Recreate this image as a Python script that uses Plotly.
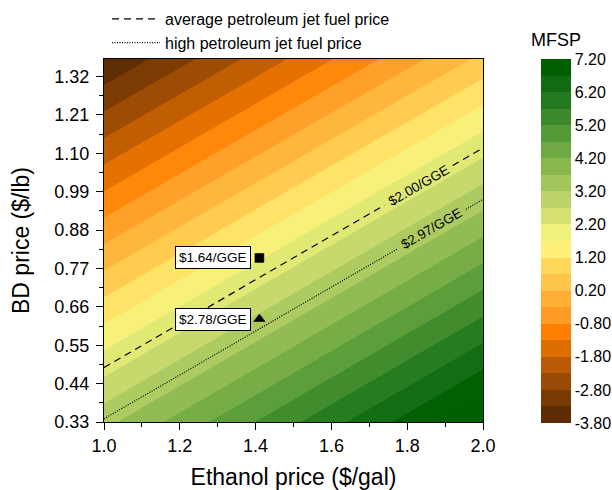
import numpy as np
import plotly.graph_objects as go

# MFSP surface ($/GGE) on a coarse grid of ethanol and BD prices
ethanol_price = [1.0, 1.5, 2.0]          # $/gal
bd_price = [0.33, 0.85, 1.37]            # $/lb
mfsp = [
    [3.05, 5.12, 7.19],                  # BD = 0.33
    [-0.37, 1.70, 3.77],                 # BD = 0.85
    [-3.79, -1.73, 0.33],                # BD = 1.37
]

# Break-even lines for petroleum jet fuel prices
line_ethanol = [1.0, 2.0]
avg_jet_bd = [0.486, 1.115]              # $2.00/GGE
high_jet_bd = [0.339, 0.968]             # $2.97/GGE
avg_label_x = 1.83
high_label_x = 1.865
label_gap = 0.09

# Two highlighted scenarios
case_ethanol = [1.41, 1.41]
case_bd = [0.80, 0.625]
case_mfsp = ["$1.64/GGE", "$2.78/GGE"]
case_symbols = ["square", "triangle-up"]

# Band colours, lowest MFSP first (0.5 $/GGE steps from -3.8 to 7.2)
band_colors = [
    "#5e2c04", "#7a3a04", "#9a4a04", "#bb5a04", "#de6e00", "#ff8000",
    "#ff9a24", "#ffae36", "#ffc44a", "#ffd75a", "#fff07a",
    "#eef27a", "#d6e070", "#bcd36a", "#a3c65b", "#88b74f",
    "#6ea943", "#559a37", "#3b892b", "#23791e", "#106b12", "#005f00",
]

lev_start, lev_end, lev_size = -3.8, 7.2, 0.5
cbar_ticks = [round(lev_start + k, 2) for k in range(12)]
cbar_text = ["%.2f" % v for v in cbar_ticks]

# colour map for the filled contours: band i is sampled at (i + 1) / (n + 2)
n_slots = len(band_colors) + 2
fill_scale = [[0.0, band_colors[0]]]
for i, c in enumerate(band_colors):
    fill_scale.append([(i + 1) / n_slots, c])
fill_scale.append([1.0, band_colors[-1]])

# stepped scale for the colour bar (exactly lev_start .. lev_end)
nb = len(band_colors)
step_scale = []
for i, c in enumerate(band_colors):
    step_scale.append([i / nb, c])
    step_scale.append([(i + 1) / nb, c])

FONT = "Liberation Sans, Arial, sans-serif"
PLOT_W, PLOT_H = 379, 363

fig = go.Figure()

fig.add_trace(go.Contour(
    x=ethanol_price, y=bd_price, z=mfsp,
    autocontour=False,
    contours=dict(start=lev_start, end=lev_end, size=lev_size, coloring="fill"),
    line=dict(width=0),
    colorscale=fill_scale,
    showscale=False,
    showlegend=False,
    hoverinfo="skip",
))

# colour key for the MFSP bands
fig.add_trace(go.Scatter(
    x=[ethanol_price[1]], y=[bd_price[1]], mode="markers",
    showlegend=False, hoverinfo="skip",
    marker=dict(
        size=1, opacity=0, color=[mfsp[1][1]],
        colorscale=step_scale, cmin=lev_start, cmax=lev_end, showscale=True,
        colorbar=dict(
            thickness=30, thicknessmode="pixels",
            len=364, lenmode="pixels",
            x=1 + 58 / PLOT_W, xanchor="left", xref="paper",
            y=1.0, yanchor="top", yref="paper",
            outlinewidth=0,
            ticks="",
            tickvals=cbar_ticks,
            ticktext=cbar_text,
            tickfont=dict(size=16, color="black", family=FONT),
            xpad=0, ypad=0,
        ),
    ),
))


def broken_line(xs, ys, xc, gap):
    xa, xb = xc - gap, xc + gap
    return ([xs[0], xa, None, xb, xs[1]],
            [ys[0], float(np.interp(xa, xs, ys)), None,
             float(np.interp(xb, xs, ys)), ys[1]])


ax_, ay_ = broken_line(line_ethanol, avg_jet_bd, avg_label_x, label_gap)
fig.add_trace(go.Scatter(
    x=ax_, y=ay_, mode="lines", name="average petroleum jet fuel price",
    line=dict(color="black", width=1.2, dash="7px,5px"), legendgroup="a",
))
hx_, hy_ = broken_line(line_ethanol, high_jet_bd, high_label_x, label_gap)
fig.add_trace(go.Scatter(
    x=hx_, y=hy_, mode="lines", name="high petroleum jet fuel price",
    line=dict(color="black", width=1.2, dash="1px,1.5px"), legendgroup="b",
))

fig.add_trace(go.Scatter(
    x=case_ethanol, y=case_bd, mode="markers", showlegend=False,
    marker=dict(symbol=case_symbols, size=[9, 10], color="black", opacity=1,
                line=dict(color="black", width=0.5)),
    hoverinfo="skip",
))

annotations = []
for xv, yv, txt in zip(case_ethanol, case_bd, case_mfsp):
    annotations.append(dict(
        x=xv, y=yv, xref="x", yref="y", text=txt, showarrow=False,
        xanchor="right", yanchor="middle", xshift=-8,
        bgcolor="white", bordercolor="black", borderwidth=1, borderpad=3,
        font=dict(size=13.5, color="black", family=FONT),
    ))
for lx, xs, ys, txt in [(avg_label_x, line_ethanol, avg_jet_bd, "$2.00/GGE"),
                        (high_label_x, line_ethanol, high_jet_bd, "$2.97/GGE")]:
    annotations.append(dict(
        x=lx, y=float(np.interp(lx, xs, ys)), xref="x", yref="y", text=txt,
        showarrow=False, textangle=-30, xanchor="center", yanchor="middle",
        font=dict(size=13.5, color="black", family=FONT),
    ))
# colour bar heading, centred over the bar
annotations.append(dict(
    x=1 + 73 / PLOT_W, y=1 + 7 / PLOT_H, xref="paper", yref="paper",
    text="MFSP", showarrow=False, xanchor="center", yanchor="bottom",
    font=dict(size=18, color="black", family=FONT),
))

axis_common = dict(
    showline=True, linecolor="black", linewidth=1, mirror=True,
    ticks="outside", ticklen=7, tickwidth=1, tickcolor="black",
    showgrid=False, zeroline=False,
    tickfont=dict(size=18, color="black", family=FONT),
)

fig.update_layout(
    width=612, height=490,
    margin=dict(l=104, r=129, t=59, b=68, autoexpand=False),
    paper_bgcolor="white", plot_bgcolor="white",
    font=dict(family=FONT, color="black"),
    annotations=annotations,
    legend=dict(
        x=3 / PLOT_W, xanchor="left", y=1 + 57 / PLOT_H, yanchor="top",
        bgcolor="rgba(0,0,0,0)", borderwidth=0,
        font=dict(size=16, color="black", family=FONT),
        itemwidth=48, tracegroupgap=0, traceorder="grouped",
    ),
    xaxis=dict(
        axis_common, range=[1.0, 2.0], tickvals=[1.0, 1.2, 1.4, 1.6, 1.8, 2.0],
        tickformat=".1f",
        minor=dict(dtick=0.1, tick0=1.0, ticks="outside", ticklen=4, tickcolor="black"),
        title=dict(text="Ethanol price ($/gal)", font=dict(size=23, color="black", family=FONT),
                   standoff=18),
    ),
    yaxis=dict(
        axis_common, range=[0.33, 1.37],
        tickvals=[0.33, 0.44, 0.55, 0.66, 0.77, 0.88, 0.99, 1.10, 1.21, 1.32],
        tickformat=".2f", ticklabelstandoff=3,
        minor=dict(dtick=0.055, tick0=0.33, ticks="outside", ticklen=4, tickcolor="black"),
        title=dict(text="BD price ($/lb)", font=dict(size=23, color="black", family=FONT),
                   standoff=18),
    ),
)

fig.write_html("out.html")
